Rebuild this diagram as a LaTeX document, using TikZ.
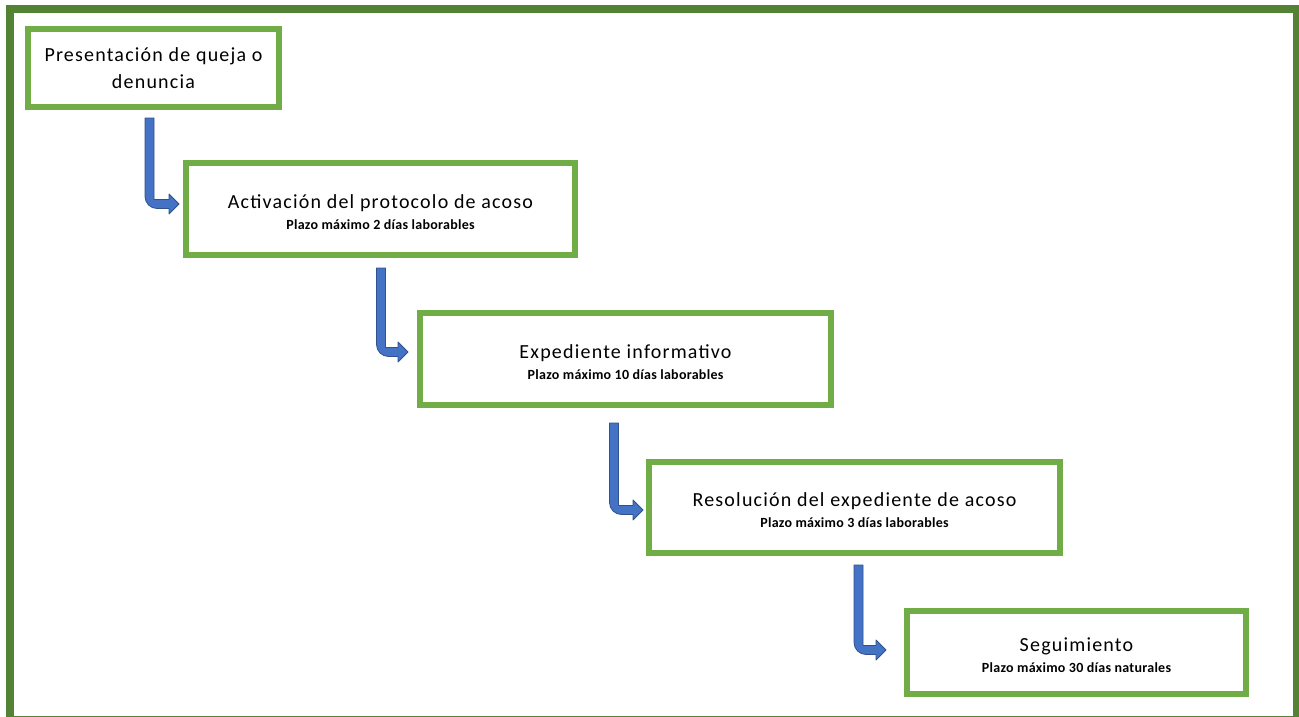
\documentclass[tikz,border=0pt]{standalone}
\usepackage{fontspec}
\setmainfont{Carlito}
\newfontfamily\mainlbl[LetterSpace=6]{Carlito}
\newfontfamily\sublbl[LetterSpace=2]{Carlito}
\usetikzlibrary{calc}
\definecolor{boxgreen}{HTML}{70AD47}
\definecolor{framegreen}{HTML}{548235}
\definecolor{arrowblue}{HTML}{4472C4}
\definecolor{arrowedge}{HTML}{2F528F}
\tikzset{
  stagebox/.style={draw=boxgreen, line width=6pt, fill=white, inner sep=0pt},
  stagetext/.style={align=center, inner sep=0pt, font=\mainlbl\fontsize{20}{21}\selectfont},
  bentfill/.style={fill=arrowblue, draw=arrowedge, line width=0.8pt, line join=round},
}
\newcommand\subtxt[1]{{\sublbl\fontsize{14}{21}\selectfont\bfseries #1}}
\newcommand\bentarrow[2]{%
  \path[bentfill] let \p1=(#1), \p2=(#2) in
    ({\x1-4.5pt},{\y1}) -- ({\x1-4.5pt},{\y2-4.5pt+12pt})
    arc[start angle=180, end angle=270, radius=12pt]
    -- ({\x2-10pt},{\y2-4.5pt}) -- ({\x2-10pt},{\y2-10pt}) -- ({\x2},{\y2})
    -- ({\x2-10pt},{\y2+10pt}) -- ({\x2-10pt},{\y2+4.5pt})
    -- ({\x1+4.5pt},{\y2+4.5pt}) -- ({\x1+4.5pt},{\y1}) -- cycle;}
\begin{document}
\begin{tikzpicture}[x=1pt,y=-1pt]
  \useasboundingbox (0,0) rectangle (1299,717);
  \clip (0,0) rectangle (1299,717);
  \fill[white] (0,0) rectangle (1299,717);
  \draw[framegreen, line width=8pt] (10,9) rectangle (1297,720);

  \node[stagebox, minimum width=251pt, minimum height=78pt] (b1) at (153.5,68) {};
  \node[stagebox, minimum width=389pt, minimum height=92pt] (b2) at (380.5,209) {};
  \node[stagebox, minimum width=411pt, minimum height=92pt] (b3) at (625.5,359) {};
  \node[stagebox, minimum width=411pt, minimum height=91pt] (b4) at (854.5,507.5) {};
  \node[stagebox, minimum width=339pt, minimum height=83pt] (b5) at (1076.5,652.5) {};

  \node[stagetext, font=\mainlbl\fontsize{20}{27}\selectfont] (t1) at (b1.center)
        {Presentación de queja o\\denuncia};
  \node[stagetext] (t2) at ([yshift=-3pt]b2.center)
        {Activación del protocolo de acoso\\\subtxt{Plazo máximo 2 días laborables}};
  \node[stagetext] (t3) at ([yshift=-3pt]b3.center)
        {Expediente informativo\\\subtxt{Plazo máximo 10 días laborables}};
  \node[stagetext] (t4) at ([yshift=-3pt]b4.center)
        {Resolución del expediente de acoso\\\subtxt{Plazo máximo 3 días laborables}};
  \node[stagetext] (t5) at ([yshift=-3pt]b5.center)
        {Seguimiento\\\subtxt{Plazo máximo 30 días naturales}};

  \coordinate (a1s) at (149.5,118);  \coordinate (a1e) at (179,204);
  \coordinate (a2s) at (381,268);    \coordinate (a2e) at (408,352);
  \coordinate (a3s) at (614,423);    \coordinate (a3e) at (643,510);
  \coordinate (a4s) at (858.5,565);  \coordinate (a4e) at (886,650);
  \bentarrow{a1s}{a1e}
  \bentarrow{a2s}{a2e}
  \bentarrow{a3s}{a3e}
  \bentarrow{a4s}{a4e}
\end{tikzpicture}
\end{document}
